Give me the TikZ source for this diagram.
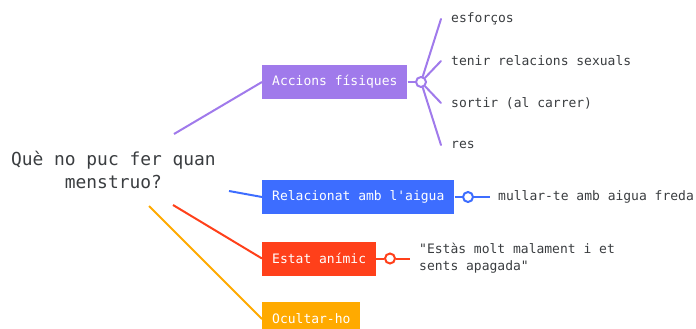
\documentclass[tikz,border=0pt]{standalone}
\usepackage{fontspec}
\setmonofont{DejaVu Sans Mono}
\usetikzlibrary{positioning}
\definecolor{cpurple}{HTML}{A07AEB}
\definecolor{cblue}{HTML}{3D6DFF}
\definecolor{cred}{HTML}{FF401A}
\definecolor{corange}{HTML}{FFAA00}
\definecolor{ctext}{HTML}{3A3D40}
\begin{document}
\begin{tikzpicture}[x=1pt,y=-1pt,
  catbox/.style={fill=#1, draw=none, text=white, anchor=west, minimum height=34pt,
    inner xsep=10pt, inner ysep=0pt, font=\ttfamily\fontsize{13}{16}\selectfont},
  leaf/.style={anchor=west, inner sep=0pt, text=ctext, align=left,
    font=\ttfamily\fontsize{13}{17}\selectfont},
  link/.style={draw=#1, line width=2pt},
  knob/.style={circle, draw=#1, line width=2pt, fill=white, minimum size=10pt, inner sep=0pt}
]
\useasboundingbox (0,0) rectangle (696,329);

% root
\node[text=ctext, align=center, inner sep=0pt, font=\ttfamily\fontsize{17.9}{23}\selectfont] (root) at (113.4,170) {Què no puc fer quan\\menstruo?};
\coordinate (r1) at (174,134);
\coordinate (r2) at (229,191);
\coordinate (r3) at (173,205);
\coordinate (r4) at (149,206);

% category boxes
\node[catbox=cpurple] (acc) at (262,82) {Accions físiques};
\node[catbox=cblue] (aig) at (262,197) {Relacionat amb l'aigua};
\node[catbox=cred] (est) at (262,258.5) {Estat anímic};
\node[catbox=corange] (ocu) at (262,319) {Ocultar-ho};

\draw[link=cpurple] (r1) -- (acc.west);
\draw[link=cblue] (r2) -- (aig.west);
\draw[link=cred] (r3) -- (est.west);
\draw[link=corange] (r4) -- (ocu.west);

% purple sub-branch
\node[knob=cpurple] (k1) at (421,82) {};
\coordinate (e1) at (441,19);
\coordinate (e2) at (441,61);
\coordinate (e3) at (441,103);
\coordinate (e4) at (441,145);
\draw[link=cpurple] (acc.east) -- (k1);
\draw[link=cpurple, line cap=round] (k1) -- (e1);
\draw[link=cpurple, line cap=round] (k1) -- (e2);
\draw[link=cpurple, line cap=round] (k1) -- (e3);
\draw[link=cpurple, line cap=round] (k1) -- (e4);
\node[leaf] (l1) at (451,19) {esforços};
\node[leaf] (l2) at (451,61) {tenir relacions sexuals};
\node[leaf] (l3) at (451,103) {sortir (al carrer)};
\node[leaf] (l4) at (451,145) {res};

% blue sub-branch
\node[knob=cblue] (k2) at (468,197) {};
\coordinate (e5) at (490,197);
\draw[link=cblue] (aig.east) -- (k2);
\draw[link=cblue] (k2) -- (e5);
\node[leaf] (l5) at (498,197) {mullar-te amb aigua freda};

% red sub-branch
\node[knob=cred] (k3) at (390,258.5) {};
\coordinate (e6) at (410,258.5);
\draw[link=cred] (est.east) -- (k3);
\draw[link=cred] (k3) -- (e6);
\node[leaf] (l6) at (419,258.5) {"Estàs molt malament i et\\sents apagada"};
\end{tikzpicture}
\end{document}
